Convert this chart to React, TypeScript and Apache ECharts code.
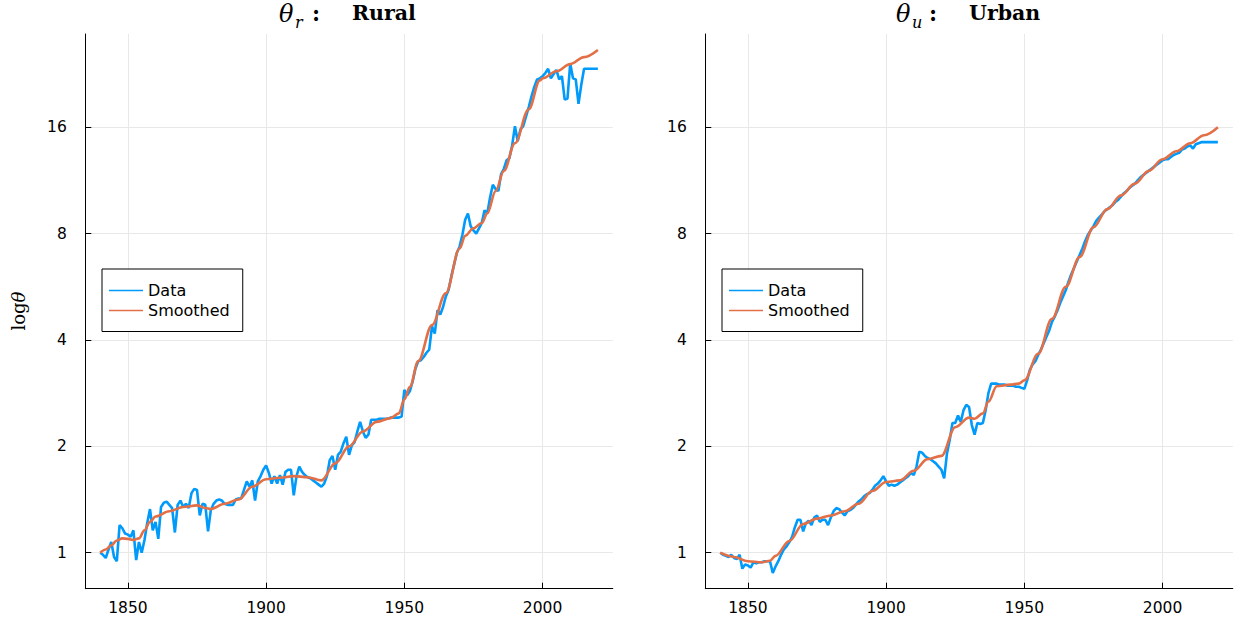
import React, { useEffect, useRef } from "react";
import * as echarts from "echarts";

// ---------- data (log2 of theta) ----------
const START_YEAR = 1840;
const END_YEAR = 2020;

const ruralLog2: number[] = [
  // 1840-1849
  0.0, -0.02, -0.05, 0.03, 0.1, -0.04, -0.08, 0.26, 0.23, 0.18,
  // 1850-1859
  0.17, 0.15, 0.21, -0.07, 0.1, 0.0, 0.12, 0.28, 0.41, 0.21,
  // 1860-1869
  0.29, 0.13, 0.43, 0.47, 0.48, 0.45, 0.42, 0.19, 0.45, 0.49,
  // 1870-1879
  0.43, 0.46, 0.42, 0.56, 0.6, 0.59, 0.35, 0.46, 0.45, 0.2,
  // 1880-1889
  0.4, 0.46, 0.49, 0.5, 0.49, 0.46, 0.45, 0.45, 0.45, 0.5,
  // 1890-1899
  0.51, 0.51, 0.59, 0.67, 0.62, 0.68, 0.49, 0.67, 0.72, 0.78,
  // 1900-1909
  0.82, 0.75, 0.65, 0.72, 0.65, 0.73, 0.64, 0.76, 0.78, 0.78,
  // 1910-1919
  0.54, 0.72, 0.81, 0.76, 0.73, 0.71, 0.7, 0.68, 0.66, 0.64,
  // 1920-1929
  0.62, 0.65, 0.72, 0.87, 0.91, 0.78, 0.92, 0.95, 1.03, 1.09,
  // 1930-1939
  0.92, 1.01, 1.04, 1.14, 1.23, 1.14, 1.08, 1.11, 1.25, 1.25,
  // 1940-1949
  1.25, 1.26, 1.26, 1.26, 1.26, 1.27, 1.27, 1.27, 1.27, 1.28,
  // 1950-1959
  1.53, 1.48, 1.52, 1.61, 1.73, 1.8, 1.81, 1.84, 1.88, 1.91,
  // 1960-1969
  2.13, 2.06, 2.28, 2.24, 2.31, 2.41, 2.47, 2.6, 2.71, 2.82,
  // 1970-1979
  2.88, 2.99, 3.13, 3.19, 3.07, 3.03, 3.0, 3.05, 3.1, 3.22,
  // 1980-1989
  3.19, 3.34, 3.46, 3.42, 3.4, 3.56, 3.61, 3.69, 3.71, 3.83,
  // 1990-1999
  4.01, 3.87, 3.98, 4.01, 4.1, 4.19, 4.29, 4.38, 4.45, 4.46,
  // 2000-2009
  4.48, 4.51, 4.55, 4.46, 4.5, 4.54, 4.45, 4.48, 4.26, 4.27,
  // 2010-2019
  4.6, 4.46, 4.45, 4.22, 4.4, 4.55, 4.55, 4.55, 4.55, 4.55,
  // 2020
  4.55,
];

const urbanLog2: number[] = [
  // 1840-1849
  0.0, -0.02, -0.03, -0.04, -0.02, -0.05, -0.06, -0.02, -0.15, -0.11,
  // 1850-1859
  -0.12, -0.14, -0.09, -0.1, -0.09, -0.09, -0.08, -0.08, -0.08, -0.19,
  // 1860-1869
  -0.13, -0.08, -0.02, 0.03, 0.06, 0.1, 0.15, 0.24, 0.31, 0.31,
  // 1870-1879
  0.2, 0.28, 0.3, 0.26, 0.33, 0.35, 0.29, 0.31, 0.31, 0.26,
  // 1880-1889
  0.33, 0.39, 0.42, 0.41, 0.38, 0.35, 0.39, 0.4, 0.42, 0.45,
  // 1890-1899
  0.48, 0.5, 0.53, 0.55, 0.56, 0.59, 0.63, 0.65, 0.68, 0.72,
  // 1900-1909
  0.67, 0.63, 0.64, 0.63, 0.64, 0.66, 0.68, 0.7, 0.72, 0.75,
  // 1910-1919
  0.73, 0.81, 0.95, 0.94, 0.91, 0.89, 0.88, 0.86, 0.84, 0.81,
  // 1920-1929
  0.78, 0.7, 0.93, 1.06, 1.22, 1.22, 1.29, 1.23, 1.34, 1.39,
  // 1930-1939
  1.37, 1.2, 1.11, 1.22, 1.21, 1.22, 1.34, 1.5, 1.59, 1.59,
  // 1940-1949
  1.59, 1.58, 1.58, 1.58, 1.57, 1.57, 1.57, 1.56, 1.56, 1.55,
  // 1950-1959
  1.54, 1.62, 1.72, 1.77, 1.8, 1.86, 1.91, 1.97, 2.03, 2.09,
  // 1960-1969
  2.17, 2.22, 2.28, 2.35, 2.41, 2.47, 2.55, 2.62, 2.68, 2.74,
  // 1970-1979
  2.8, 2.86, 2.93, 2.99, 3.03, 3.07, 3.12, 3.15, 3.18, 3.21,
  // 1980-1989
  3.23, 3.25, 3.27, 3.3, 3.32, 3.35, 3.38, 3.4, 3.43, 3.45,
  // 1990-1999
  3.47, 3.5, 3.53, 3.55, 3.57, 3.59, 3.61, 3.63, 3.65, 3.67,
  // 2000-2009
  3.69, 3.7, 3.7, 3.72, 3.74, 3.75, 3.76, 3.79, 3.8, 3.82,
  // 2010-2019
  3.83, 3.8, 3.84, 3.85, 3.86, 3.86, 3.86, 3.86, 3.86, 3.86,
  // 2020
  3.86,
];

const ruralSmoothYears: number[] = [
  1840, 1842, 1844, 1846, 1848, 1850, 1852, 1854, 1856, 1858, 1860, 1865, 1870,
  1875, 1878, 1880, 1885, 1890, 1895, 1900, 1905, 1910, 1915, 1920, 1925, 1930,
  1935, 1940, 1945, 1948, 1950, 1952, 1955, 1960, 1965, 1970, 1972, 1975, 1978,
  1980, 1983, 1986, 1990, 1995, 1999, 2000, 2005, 2010, 2015, 2020,
];
const ruralSmoothLog2: number[] = [
  0.0, 0.03, 0.07, 0.115, 0.135, 0.13, 0.12, 0.135, 0.21, 0.29, 0.34, 0.39, 0.43,
  0.445, 0.42, 0.41, 0.46, 0.5, 0.62, 0.69, 0.705, 0.72, 0.71, 0.68, 0.84, 1.0,
  1.14, 1.23, 1.265, 1.31, 1.44, 1.56, 1.8, 2.14, 2.44, 2.86, 2.98, 3.05, 3.1,
  3.19, 3.4, 3.59, 3.85, 4.17, 4.44, 4.46, 4.527, 4.594, 4.66, 4.727,
];

const urbanSmoothYears: number[] = [
  1840, 1845, 1850, 1855, 1858, 1860, 1865, 1870, 1875, 1880, 1885, 1890, 1895,
  1900, 1905, 1910, 1915, 1920, 1925, 1930, 1932, 1935, 1937, 1940, 1945, 1948,
  1950, 1955, 1960, 1965, 1970, 1975, 1980, 1985, 1990, 1995, 2000, 2005, 2010,
  2015, 2020,
];
const urbanSmoothLog2: number[] = [
  0.0, -0.04, -0.08, -0.09, -0.075, -0.03, 0.11, 0.27, 0.32, 0.35, 0.39, 0.46,
  0.58, 0.665, 0.68, 0.77, 0.88, 0.91, 1.18, 1.27, 1.26, 1.31, 1.42, 1.565, 1.58,
  1.59, 1.62, 1.87, 2.2, 2.5, 2.78, 3.06, 3.23, 3.36, 3.47, 3.59, 3.7, 3.775,
  3.85, 3.925, 4.0,
];

const xTicks: number[] = [1850, 1900, 1950, 2000];
const yTicks: number[] = [0, 1, 2, 3, 4]; // log2 θ → labelled 1, 2, 4, 8, 16
const seriesNames = ["Data", "Smoothed"];
const panelTitles = [
  { sym: "θ", sub: "r", word: "Rural" },
  { sym: "θ", sub: "u", word: "Urban" },
];

// ---------- styling / layout ----------
const BLUE = "#009AFA";
const ORANGE = "#E36F47";
const SANS = "DejaVu Sans";
const SERIF = "DejaVu Serif";
const GRID_TOP = 34;
const GRID_H = 554.7;
const GRID_W = 527.5;
const GRID_LEFTS = [85.3, 705.3];
const X_MIN = 1834.6;
const X_MAX = 2025.4;
const Y_MIN = -0.3385;
const Y_MAX = 4.877;

function annual(values: number[]): [number, number][] {
  const out: [number, number][] = [];
  for (let i = 0; i < values.length; i++) {
    const yr = START_YEAR + i;
    if (yr > END_YEAR) break;
    out.push([yr, values[i]]);
  }
  return out;
}

function paired(xs: number[], ys: number[]): [number, number][] {
  return xs.map((x, i) => [x, ys[i]]);
}

function buildOption(): echarts.EChartsOption {
  const grids = GRID_LEFTS.map((left) => ({
    left,
    top: GRID_TOP,
    width: GRID_W,
    height: GRID_H,
    containLabel: false,
    outerBoundsMode: "none",
  }));

  const xAxes = GRID_LEFTS.map((_, i) => ({
    type: "value",
    gridIndex: i,
    min: X_MIN,
    max: X_MAX,
    axisLine: { show: true, onZero: false, lineStyle: { color: "#000", width: 1 } },
    axisTick: {
      show: true,
      inside: true,
      length: 6,
      customValues: xTicks,
      lineStyle: { color: "#000", width: 1 },
    },
    axisLabel: {
      show: true,
      customValues: xTicks,
      margin: 11,
      color: "#000",
      fontSize: 15.5,
      fontFamily: SANS,
      formatter: (v: number) => String(Math.round(v)),
    },
    splitLine: { show: true, lineStyle: { color: "#e8e8e8", width: 1 } },
  }));

  const yAxes = GRID_LEFTS.map((_, i) => ({
    type: "value",
    gridIndex: i,
    min: Y_MIN,
    max: Y_MAX,
    axisLine: { show: true, onZero: false, lineStyle: { color: "#000", width: 1 } },
    axisTick: {
      show: true,
      inside: true,
      length: 6,
      customValues: yTicks,
      lineStyle: { color: "#000", width: 1 },
    },
    axisLabel: {
      show: true,
      customValues: yTicks,
      margin: 18.5,
      color: "#000",
      fontSize: 15.5,
      fontFamily: SANS,
      formatter: (v: number) => String(Math.round(Math.pow(2, v))),
    },
    splitLine: { show: true, lineStyle: { color: "#e8e8e8", width: 1 } },
  }));

  const panels = [
    { data: ruralLog2, sx: ruralSmoothYears, sy: ruralSmoothLog2 },
    { data: urbanLog2, sx: urbanSmoothYears, sy: urbanSmoothLog2 },
  ];

  const series: any[] = [];
  panels.forEach((p, i) => {
    series.push({
      name: seriesNames[0],
      type: "line",
      xAxisIndex: i,
      yAxisIndex: i,
      data: annual(p.data),
      symbol: "none",
      showSymbol: false,
      color: BLUE,
      lineStyle: { color: BLUE, width: 2.6 },
      z: 2,
    });
    series.push({
      name: seriesNames[1],
      type: "line",
      xAxisIndex: i,
      yAxisIndex: i,
      data: paired(p.sx, p.sy),
      symbol: "none",
      showSymbol: false,
      smooth: 0.35,
      smoothMonotone: "x",
      color: ORANGE,
      lineStyle: { color: ORANGE, width: 2.6 },
      z: 3,
    });
  });

  const legends = GRID_LEFTS.map((left) => ({
    data: seriesNames,
    orient: "vertical",
    left: left + 16.7,
    top: 269,
    icon: "rect",
    itemWidth: 34,
    itemHeight: 1.5,
    itemGap: 4,
    padding: [13.5, 13, 13, 7],
    borderColor: "#000",
    borderWidth: 1,
    borderRadius: 0,
    backgroundColor: "#fff",
    selectedMode: false,
    textStyle: { color: "#000", fontSize: 16, fontFamily: SANS, lineHeight: 16 },
  }));

  const graphic: any[] = [];
  GRID_LEFTS.forEach((left, i) => {
    const t = panelTitles[i];
    const center = left + GRID_W / 2;
    const start = center - (i === 0 ? 70 : 73);
    graphic.push(
      {
        type: "text",
        x: start,
        y: 14,
        style: {
          text: t.sym,
          fill: "#000",
          font: `italic 24px "${SERIF}"`,
          align: "left",
          verticalAlign: "middle",
        },
      },
      {
        type: "text",
        x: start + 16,
        y: 22.5,
        style: {
          text: t.sub,
          fill: "#000",
          font: `italic 16px "${SERIF}"`,
          align: "left",
          verticalAlign: "middle",
        },
      },
      {
        type: "text",
        x: start + 33,
        y: 13,
        style: {
          text: ":",
          fill: "#000",
          font: `bold 22px "${SERIF}"`,
          align: "left",
          verticalAlign: "middle",
        },
      },
      {
        type: "text",
        x: start + 73,
        y: 13,
        style: {
          text: t.word,
          fill: "#000",
          font: `bold 20.5px "${SERIF}"`,
          align: "left",
          verticalAlign: "middle",
        },
      }
    );
  });
  graphic.push({
    type: "text",
    x: 18,
    y: 311,
    rotation: Math.PI / 2,
    style: {
      text: "{a|log}{b|θ}",
      align: "center",
      verticalAlign: "middle",
      rich: {
        a: { fontFamily: SERIF, fontSize: 18, fill: "#000", color: "#000" },
        b: { fontFamily: SERIF, fontSize: 18, fontStyle: "italic", fill: "#000", color: "#000" },
      },
    },
  });

  return {
    animation: false,
    backgroundColor: "#fff",
    grid: grids as any,
    xAxis: xAxes as any,
    yAxis: yAxes as any,
    legend: legends as any,
    series,
    graphic,
  };
}

export default function App() {
  const ref = useRef<HTMLDivElement>(null);
  useEffect(() => {
    if (!ref.current) return;
    const chart = echarts.init(ref.current, undefined, { renderer: "svg" });
    chart.setOption(buildOption());
    return () => chart.dispose();
  }, []);
  return (
    <div
      ref={ref}
      style={{ position: "fixed", left: 0, top: 0, width: 1235, height: 625, background: "#fff" }}
    />
  );
}
